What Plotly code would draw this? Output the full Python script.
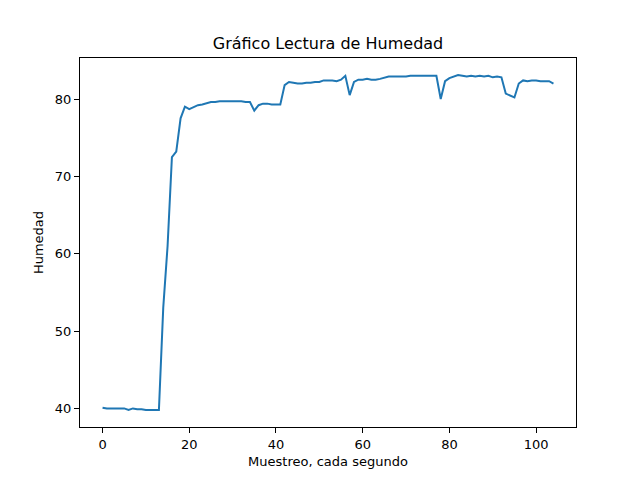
import plotly.graph_objects as go

# lectura de humedad, una muestra por segundo
humedad = [
    40.1, 40.0, 40.0, 40.0, 40.0, 40.0, 39.8, 40.0, 39.9, 39.9,
    39.8, 39.8, 39.8, 39.8, 53.0, 61.0, 72.5, 73.2, 77.5, 79.0,
    78.7, 79.0, 79.2, 79.3, 79.5, 79.6, 79.6, 79.7, 79.7, 79.7,
    79.7, 79.7, 79.7, 79.6, 79.6, 78.5, 79.2, 79.4, 79.4, 79.3,
    79.3, 79.3, 81.8, 82.2, 82.1, 82.0, 82.0, 82.1, 82.1, 82.2,
    82.2, 82.4, 82.4, 82.4, 82.3, 82.5, 83.0, 80.5, 82.2, 82.5,
    82.5, 82.6, 82.5, 82.5, 82.6, 82.8, 82.9, 82.9, 82.9, 82.9,
    82.9, 83.0, 83.0, 83.0, 83.0, 83.0, 83.0, 83.0, 80.0, 82.3,
    82.7, 82.9, 83.1, 83.0, 82.9, 83.0, 82.9, 83.0, 82.9, 83.0,
    82.8, 82.9, 82.8, 80.7, 80.4, 80.2, 82.0, 82.4, 82.3, 82.4,
    82.4, 82.3, 82.3, 82.3, 82.0,
]
muestras = list(range(len(humedad)))

fig = go.Figure()
fig.add_trace(go.Scatter(x=muestras, y=humedad, mode='lines',
                         line=dict(color='#1f77b4', width=2)))

axis = dict(showgrid=False, zeroline=False, showline=True, linecolor='black',
            linewidth=1, mirror=True, ticks='outside', ticklen=5,
            tickcolor='black', tickfont=dict(size=13, color='black'))

# la pagina tiene 8px de margen en el body, se compensa aqui
fig.update_layout(
    width=640, height=480,
    margin=dict(l=72, r=72, t=50, b=61),
    paper_bgcolor='white', plot_bgcolor='white',
    font=dict(family='DejaVu Sans', color='black'),
    showlegend=False,
    title=dict(text='Gráfico Lectura de Humedad', x=(72 + 496 / 2) / 640,
               xanchor='center', y=1 - 35 / 480, yanchor='middle',
               font=dict(size=16)),
    xaxis=dict(axis, range=[-5.2, 109.2], tickvals=[0, 20, 40, 60, 80, 100],
               title=dict(text='Muestreo, cada segundo', font=dict(size=13), standoff=6)),
    yaxis=dict(axis, range=[37.6, 85.3], tickvals=[40, 50, 60, 70, 80],
               title=dict(text='Humedad', font=dict(size=13), standoff=8)),
)

fig.write_html('out.html')
